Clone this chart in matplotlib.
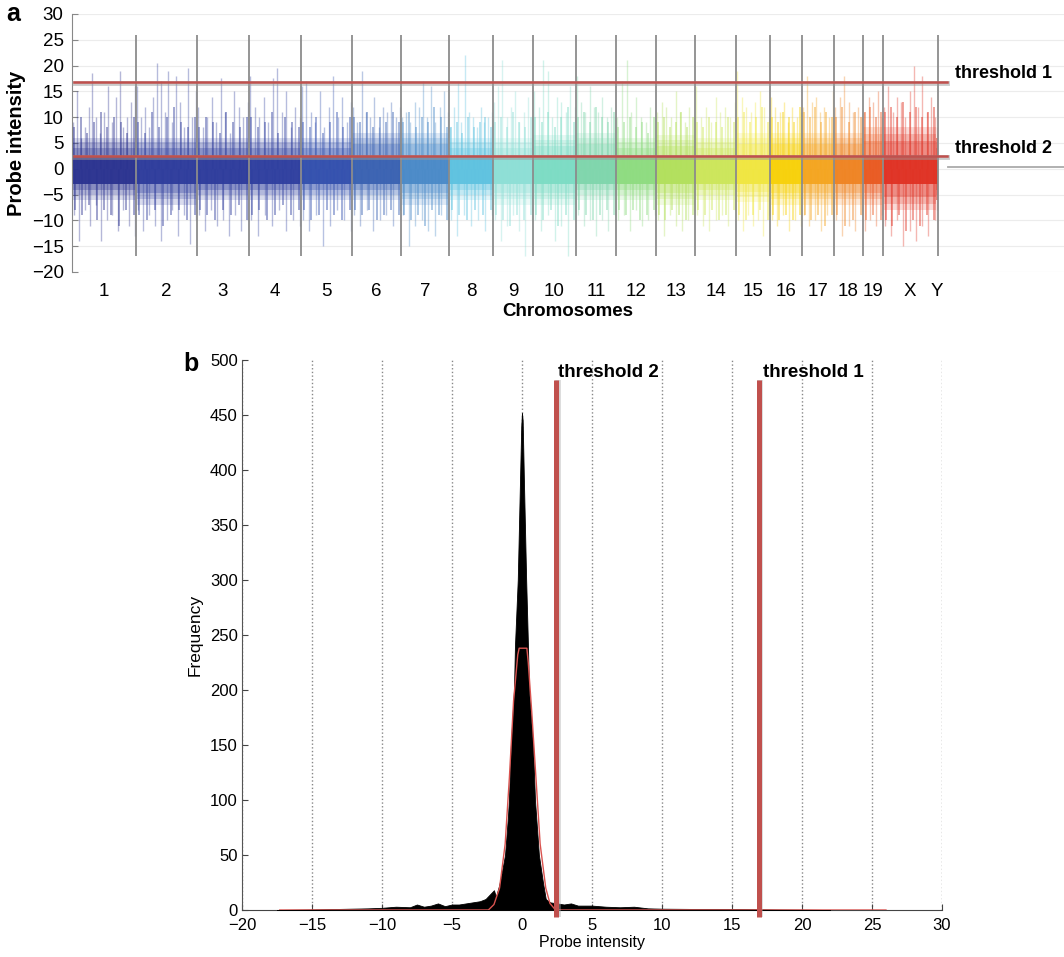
import numpy as np
import matplotlib
matplotlib.use("Agg")
import matplotlib.pyplot as plt

plt.rcParams['font.family'] = ['Liberation Sans', 'DejaVu Sans']

# ---- panel a data: probe intensities along the genome ----
chroms = ['1', '2', '3', '4', '5', '6', '7', '8', '9', '10', '11', '12', '13',
          '14', '15', '16', '17', '18', '19', 'X', 'Y']
chrom_len = [64, 61, 52, 52, 51, 49, 48, 44, 40, 43, 40, 40, 39, 41, 34, 32,
             32, 29, 20, 53, 2]
chrom_colors = ['#2b3390', '#2e3c9c', '#2e3c9c', '#2f3f9f', '#3350ae', '#3a62b2',
                '#4a8ac8', '#5ec2e0', '#8ddfd6', '#7cdcc4', '#7fd6ac', '#8edc80',
                '#b2e05c', '#cce65a', '#f0e640', '#f7d10a', '#f4a520', '#ef8423',
                '#e95a22', '#e03224', '#e03224']
band_hi = [6, 6, 6, 6, 6, 7, 7, 6, 6, 6.5, 7, 6, 6.5, 6, 7, 7, 7, 7, 8, 8, 6]
band_lo = [-6, -7, -6, -6, -6, -6, -7, -6, -7, -7, -6, -6, -7, -6, -6.5, -7,
           -7, -7, -7, -8, -6]
core_hi = 2.5
core_lo = -3.0

# tall, isolated probes
spikes_up = [
    [9, 15, 6, 8, 12, 18.5, 10, 7, 11, 16, 9, 14, 19, 8, 10, 13, 16],
    [16, 10, 12, 8, 14, 20.5, 17, 11, 19, 9, 18, 13, 8, 19.5, 10, 15],
    [12, 8, 10, 14, 9, 17.5, 11, 7, 15, 12, 10, 13],
    [18, 12, 10, 14, 9, 17.5, 19.5, 11, 15, 8, 12, 10],
    [16, 17, 11, 9, 15, 8, 12, 18, 10, 14, 9, 13],
    [12, 9, 19, 11, 10, 14, 8, 12, 11, 13, 10, 12],
    [10, 11, 9, 13, 12, 17, 10, 16, 9, 12, 15, 11],
    [8, 12, 17, 9, 22, 11, 10, 8, 12, 9, 10, 11],
    [13, 16, 21, 10, 12, 15, 9, 11, 14, 10],
    [15, 12, 21, 19, 10, 14, 13, 11, 16, 12],
    [18, 13, 11, 16, 12, 11, 14, 10, 12, 10],
    [10, 17, 21, 11, 14, 10, 9, 12, 10],
    [11, 13, 12, 10, 15, 11, 9, 12, 10],
    [16, 10, 12, 9, 14, 11, 12, 10, 13],
    [19, 14, 12, 11, 13, 15, 12, 10],
    [14, 12, 11, 13, 9, 12, 10, 11],
    [12, 18, 13, 14, 11, 12, 10, 15],
    [12, 14, 18, 13, 11, 12, 10],
    [11, 14, 13, 15, 10],
    [12, 16, 11, 14, 13, 10, 15, 20, 12, 18, 11, 14, 10],
    [8],
]
spikes_down = [
    [-9, -14, -8, -11, -7, -14, -10, -9, -12, -8, -11, -13],
    [-8, -12, -9, -11, -14, -10, -8, -13, -9, -14.5, -10],
    [-9, -12, -8, -11, -10, -13, -9, -12, -10],
    [-10, -13, -9, -11, -8, -12, -10, -11],
    [-10, -12, -9, -15, -11, -8, -10, -12],
    [-9, -11, -8, -12, -10, -9, -11, -8],
    [-9, -15, -11, -10, -12, -13, -9, -10],
    [-10, -13, -9, -11, -10, -12, -9],
    [-10, -14, -11, -9, -12, -17, -10],
    [-10, -12, -9, -14, -11, -17, -10],
    [-9, -11, -10, -13, -10, -12, -9],
    [-10, -9, -12, -8, -11, -10, -9],
    [-10, -13, -9, -11, -12, -10, -8],
    [-9, -11, -12, -10, -9, -11, -8],
    [-10, -12, -9, -11, -10, -13, -9],
    [-10, -11, -9, -12, -10, -11],
    [-9, -11, -10, -12, -9, -10],
    [-10, -13, -11, -12, -9],
    [-12, -10, -11, -9],
    [-11, -13, -10, -15, -12, -14, -11, -13, -10],
    [-8],
]
# denser, mid-height probes at the band edges
mid_up = [
    [8, 10, 7, 9, 11, 8, 10, 9, 7, 10], [9, 7, 11, 8, 10, 12, 9, 8, 10],
    [8, 10, 9, 7, 11, 9, 8, 10], [10, 8, 9, 11, 7, 10, 9, 8],
    [9, 8, 10, 7, 9, 11, 8, 10], [10, 9, 11, 8, 10, 9, 11, 9],
    [9, 11, 8, 10, 9, 12, 10, 8], [8, 9, 7, 10, 8, 9, 10, 8],
    [9, 10, 8, 11, 9, 8, 10], [10, 9, 11, 8, 10, 12, 9],
    [10, 11, 9, 12, 10, 9, 11], [8, 9, 10, 8, 9, 7, 10],
    [9, 10, 8, 9, 11, 8, 10], [9, 8, 10, 9, 8, 10, 9],
    [10, 11, 9, 10, 12, 9], [10, 9, 11, 10, 9, 12],
    [11, 10, 12, 9, 11, 10], [10, 12, 9, 11, 10],
    [11, 12, 10, 11], [11, 12, 10, 13, 11, 12, 10, 11, 12], [6],
]
mid_down = [
    [-8, -9, -7, -10, -8, -9, -11, -8, -9], [-9, -10, -8, -11, -9, -8, -10, -9],
    [-8, -9, -10, -8, -9, -7, -10], [-9, -8, -10, -9, -7, -9, -8],
    [-8, -10, -9, -8, -9, -10, -8], [-8, -9, -8, -10, -9, -8, -9],
    [-9, -10, -9, -11, -8, -9, -10], [-8, -9, -10, -8, -9, -8],
    [-9, -10, -11, -9, -10, -9], [-9, -10, -8, -11, -9, -10],
    [-8, -9, -10, -9, -8, -9], [-8, -9, -8, -10, -9, -8],
    [-9, -10, -8, -9, -10, -9], [-8, -9, -8, -10, -9, -8],
    [-9, -10, -9, -8, -10], [-9, -10, -9, -10, -9],
    [-9, -10, -9, -11, -9], [-9, -11, -10, -9],
    [-10, -9, -10], [-10, -11, -9, -12, -10, -11, -9, -10], [-6],
]
threshold1 = 16.9
threshold2 = 2.45

# ---- panel b data: histogram of probe intensities ----
hist_x = [-17.5, -15, -13, -11, -10, -9, -8, -7.5, -7, -6.5, -6, -5.5, -5, -4.5,
          -4, -3.5, -3, -2.6, -2.3, -2.0, -1.86, -1.64, -1.5, -1.21, -1.0, -0.93,
          -0.79, -0.57, -0.5, -0.3, -0.14, -0.05, 0.0, 0.05, 0.14, 0.3, 0.43, 0.5,
          0.79, 0.93, 1.21, 1.5, 1.7, 2.0, 2.5, 3.0, 3.5, 4, 5, 6, 7, 8, 9, 10,
          12, 14, 16, 18, 20, 22]
hist_y = [0, 0.5, 1, 1.5, 2, 3, 2.5, 5, 3, 4, 6, 3.5, 5, 5, 6, 7, 8, 10, 14, 18,
          12, 22, 30, 50, 85, 100, 150, 200, 240, 300, 390, 440, 452, 445, 390,
          300, 240, 200, 150, 100, 50, 25, 10, 7, 6, 5, 6, 4, 4, 3, 2.5, 3, 1.5,
          1.2, 1, 1, 0.8, 0.5, 0.3, 0]
fit_x = [-17.3, -2.4, -2.0, -1.6, -1.2, -0.9, -0.6, -0.3, -0.2, 0.35, 0.45, 0.7,
         1.0, 1.3, 1.7, 2.0, 2.4, 26]
fit_y = [0, 0, 5, 20, 60, 120, 190, 232, 238, 238, 225, 180, 120, 60, 20, 6, 0, 0]

red = '#c0504d'

fig = plt.figure(figsize=(10.64, 9.57), dpi=100)

# ================= panel a =================
ax = fig.add_axes([0.0677, 0.7158, 0.9323, 0.2696])
starts = np.concatenate([[0], np.cumsum(chrom_len)[:-1]])
ends = np.cumsum(chrom_len)
data_end = ends[-1]


def spread(s, e, n, margin):
    # evenly place n probes inside one chromosome
    if e - s <= 2 * margin:
        return [s + (e - s) / 2] * n
    return np.linspace(s + margin, e - margin, n)


for i in range(len(chroms)):
    s, e, c = starts[i], ends[i], chrom_colors[i]
    for frac, a in ((1.0, 0.18), (0.85, 0.22), (0.68, 0.3)):
        ax.fill_between([s, e], band_lo[i] * frac, band_hi[i] * frac,
                        color=c, alpha=a, lw=0, zorder=1)
    ax.fill_between([s, e], core_lo, core_hi, color=c, alpha=0.95, lw=0, zorder=2)
    ax.vlines(spread(s, e, len(mid_up[i]), 2.0), 0, mid_up[i], colors=c, alpha=0.45, lw=1.4, zorder=1)
    ax.vlines(spread(s, e, len(mid_down[i]), 2.5), 0, mid_down[i], colors=c, alpha=0.45, lw=1.4, zorder=1)
    ax.vlines(spread(s, e, len(spikes_up[i]), 1.0), 0, spikes_up[i], colors=c, alpha=0.35, lw=1.0, zorder=1)
    ax.vlines(spread(s, e, len(spikes_down[i]), 1.5), 0, spikes_down[i], colors=c, alpha=0.35, lw=1.0, zorder=1)

boundaries = list(ends[:-2]) + [ends[-1]]
ax.vlines(boundaries, -17, 26, colors='#8c8c8c', lw=1.3, zorder=3)

for t in (threshold1, threshold2):
    ax.plot([2, data_end + 9], [t - 0.25, t - 0.25], color='#999999', lw=3.5, alpha=0.5, zorder=4)
    ax.plot([2, data_end + 9], [t, t], color=red, lw=1.8, zorder=5)
ax.plot([data_end + 10, 992], [0.4, 0.4], color='#aaaaaa', lw=1.3, zorder=4)

ax.text(data_end + 17, threshold1 + 1.6, 'threshold 1', fontsize=13, fontweight='bold', va='center')
ax.text(data_end + 17, threshold2 + 1.4, 'threshold 2', fontsize=13, fontweight='bold', va='center')

ax.set_xlim(0, 992)
ax.set_ylim(-20, 30)
ax.set_yticks(np.arange(-20, 31, 5))
ax.yaxis.grid(True, color='#ececec', lw=0.8)
ax.set_axisbelow(True)
ax.set_xticks((starts + ends) / 2)
ax.set_xticklabels(chroms, fontsize=13.5)
ax.tick_params(axis='x', length=0, pad=8)
ax.tick_params(axis='y', direction='in', length=4, color='#888888', labelsize=13.5, pad=6)
for sp in ('top', 'right', 'bottom'):
    ax.spines[sp].set_visible(False)
ax.spines['left'].set_color('#888888')
ax.set_xlabel('Chromosomes', fontsize=13.5, fontweight='bold', labelpad=2)
ax.set_ylabel('Probe intensity', fontsize=14.5, fontweight='bold', labelpad=4)
fig.text(0.006, 0.985, 'a', fontsize=18, fontweight='bold', va='center')

# ================= panel b =================
bx = fig.add_axes([0.2274, 0.0491, 0.6579, 0.5747])
bx.fill_between(hist_x, 0, hist_y, color='black', lw=0.6, edgecolor='black', zorder=3)
bx.plot(fit_x, fit_y, color='#d9534f', lw=1.0, zorder=4)

for t in (threshold1, threshold2):
    bx.plot([t + 0.12, t + 0.12], [-6, 482], color='#aaaaaa', lw=4, alpha=0.5,
            clip_on=False, zorder=5, solid_capstyle='butt')
    bx.plot([t, t], [-6, 482], color=red, lw=3.6, clip_on=False, zorder=6,
            solid_capstyle='butt')
bx.text(threshold2 + 0.15, 489, 'threshold 2', fontsize=13.5, fontweight='bold', va='center')
bx.text(threshold1 + 0.35, 489, 'threshold 1', fontsize=13.5, fontweight='bold', va='center')

bx.set_xlim(-20, 30)
bx.set_ylim(0, 500)
bx.set_xticks(np.arange(-20, 31, 5))
bx.set_yticks(np.arange(0, 501, 50))
bx.xaxis.grid(True, linestyle=':', color='#888888', lw=1.0)
bx.set_axisbelow(True)
bx.tick_params(direction='in', length=4, color='#444444', labelsize=12)
bx.tick_params(axis='y', pad=3)
bx.tick_params(axis='x', pad=6)
for sp in ('top', 'right'):
    bx.spines[sp].set_visible(False)
bx.spines['left'].set_color('#555555')
bx.spines['left'].set_linestyle((0, (1, 1)))
bx.spines['bottom'].set_color('#444444')
bx.set_xlabel('Probe intensity', fontsize=11.5, labelpad=1)
bx.set_ylabel('Frequency', fontsize=12.5, labelpad=5)
fig.text(0.172, 0.620, 'b', fontsize=18, fontweight='bold', va='center')

fig.savefig('out.png', dpi=100)
